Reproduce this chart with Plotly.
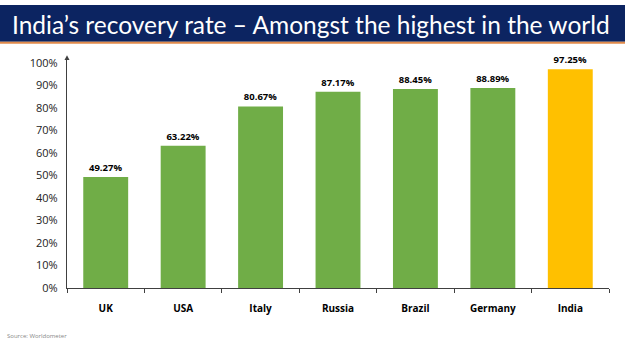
import plotly.graph_objects as go

countries = ["UK", "USA", "Italy", "Russia", "Brazil", "Germany", "India"]
recovery = [49.27, 63.22, 80.67, 87.17, 88.45, 88.89, 97.25]
bar_colors = ["#70AD47"] * 6 + ["#FFC000"]
y_ticks = list(range(0, 101, 10))
y_tick_labels = [f"{v}%" for v in y_ticks]

W, H = 625, 351
x0, x1 = 67, 609
ytop, ybot = 57, 293

fig = go.Figure(go.Bar(
    x=countries, y=recovery,
    marker=dict(color=bar_colors, line=dict(width=0)),
    text=[f"{v:.2f}%" for v in recovery],
    textposition="outside",
    textfont=dict(family="Open Sans", size=9.5, color="#000000", weight="bold"),
    cliponaxis=False,
    width=0.58,
))

fig.update_layout(
    width=W, height=H,
    margin=dict(l=0, r=0, t=0, b=0),
    paper_bgcolor="white", plot_bgcolor="white",
    showlegend=False,
    xaxis=dict(
        domain=[x0 / W, x1 / W],
        showline=True, linecolor="#404040", linewidth=1.3,
        ticks="outside", tickson="boundaries", ticklen=4, tickcolor="#404040",
        ticklabelstandoff=11,
        tickfont=dict(family="Open Sans", size=10, color="#000000", weight="bold"),
        showgrid=False,
    ),
    yaxis=dict(
        domain=[(H - ybot) / H, (H - ytop) / H],
        range=[0, 101.3],
        tickvals=y_ticks, ticktext=y_tick_labels,
        showline=True, linecolor="#404040", linewidth=1.3,
        ticks="", ticklabelstandoff=6,
        tickfont=dict(family="Open Sans", size=11, color="#222222"),
        showgrid=False, zeroline=False,
    ),
    shapes=[
        dict(type="rect", xref="paper", yref="paper", x0=0, x1=1,
             y0=(H - 38) / H, y1=1, fillcolor="#0C2461", line=dict(width=0), layer="below"),
        dict(type="rect", xref="paper", yref="paper", x0=0, x1=1,
             y0=(H - 40) / H, y1=(H - 38) / H, fillcolor="#E08A4A", line=dict(width=0)),
        dict(type="path", xref="paper", yref="paper",
             path=f"M {(x0-2.5)/W} {(H-ytop)/H} L {(x0+2.5)/W} {(H-ytop)/H} L {x0/W} {(H-ytop+5)/H} Z",
             fillcolor="#404040", line=dict(width=0)),
    ],
    annotations=[
        dict(text="India’s recovery rate – Amongst the highest in the world",
             xref="paper", yref="paper", x=10 / W, y=(H - 20) / H,
             xanchor="left", yanchor="middle", showarrow=False,
             font=dict(family="Lato", size=24.5, color="white")),
        dict(text="Source: Worldometer",
             xref="paper", yref="paper", x=5 / W, y=(H - 343) / H,
             xanchor="left", yanchor="middle", showarrow=False,
             font=dict(family="Open Sans", size=6, color="#888888")),
    ],
)

fig.write_html("out.html")
